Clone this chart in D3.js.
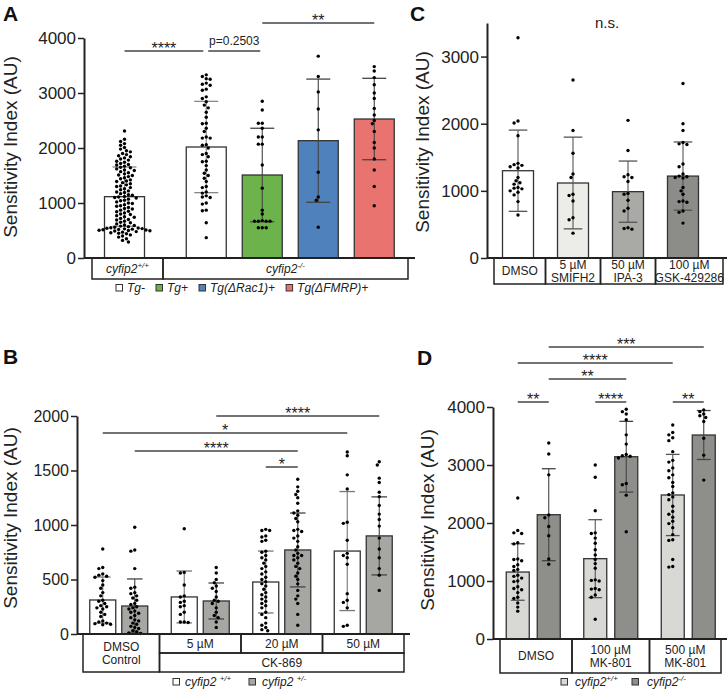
<!DOCTYPE html>
<html lang="en">
<head>
<meta charset="utf-8">
<title>Sensitivity index panels</title>
<script src="https://d3js.org/d3.v7.min.js"></script>
<style>
  body { margin: 0; background: #fff; }
  svg { display: block; font-family: "Liberation Sans", Arial, sans-serif; }
</style>
</head>
<body>
<svg id="fig" width="728" height="690"></svg>
<script>
// ---------- data: panel A ----------
var aLabels = ["Tg-", "Tg-", "Tg+", "Tg(ΔRac1)+", "Tg(ΔFMRP)+"];
var aGenotypes = ["+/+", "-/-"];
var aMean = [1115, 2018, 1509, 2133, 2527];
var aSD = [540, 830, 850, 1120, 740];
var aTicks = [0, 1000, 2000, 3000, 4000];
var aPts0 = [2310, 2160, 2120, 2080, 2050, 2010, 1980, 1950, 1930, 1900, 1880, 1860, 1840, 1820, 1800, 1780,
  1760, 1740, 1720, 1700, 1690, 1670, 1650, 1640, 1620, 1600, 1590, 1570, 1550, 1530, 1510, 1500, 1480,
  1460, 1440, 1420, 1400, 1390, 1370, 1350, 1330, 1310, 1300, 1280, 1260, 1240, 1220, 1200, 1190, 1170,
  1150, 1140, 1120, 1110, 1100, 1090, 1070, 1050, 1040, 1020, 1000, 990, 970, 950, 940, 920, 900, 890,
  870, 850, 840, 820, 800, 790, 770, 750, 740, 720, 700, 690, 670, 650, 640, 620, 600, 590, 580, 570,
  560, 550, 545, 540, 535, 530, 525, 520, 515, 510, 505, 500, 495, 490, 480, 470, 460, 450, 440, 420,
  400, 380, 350, 320, 290];
var aPts1 = [3330, 3300, 3260, 3250, 3180, 3160, 3140, 3070, 3050, 2930, 2900, 2840, 2780, 2730, 2650,
  2560, 2450, 2440, 2360, 2300, 2200, 2180, 2180, 2060, 2050, 2000, 1900, 1880, 1840, 1760, 1750, 1680,
  1600, 1540, 1500, 1450, 1390, 1300, 1280, 1200, 1180, 1130, 1110, 1100, 1000, 980, 870, 860, 640, 370];
var aPts2 = [2850, 2690, 2450, 2450, 2360, 2200, 2200, 2070, 2070, 1690, 1270, 870, 800, 680, 670, 670,
  670, 670, 550, 550, 550];
var aPts3 = [3670, 3300, 3020, 2710, 2330, 1560, 1110, 1050, 560];
var aPts4 = [3480, 3400, 3280, 3150, 3000, 2900, 2720, 2600, 2500, 2440, 2300, 2100, 2000, 1800, 1600,
  1300, 950];
var aSig = [["****", 0, 1], ["p=0.2503", 1, 2], ["**", 2, 4]];

// ---------- data: panel B ----------
var bGroups = ["DMSO\nControl", "5 µM", "20 µM", "50 µM"];
var bTreatment = "CK-869";
var bMeanWT = [312, 340, 477, 761];
var bSDWT = [211, 238, 284, 546];
var bMeanHet = [257, 303, 771, 900];
var bSDHet = [248, 165, 339, 358];
var bTicks = [0, 500, 1000, 1500, 2000];
var bPtsWT = [
  [780, 610, 600, 550, 540, 530, 520, 490, 450, 420, 380, 350, 310, 300, 280, 260, 250, 240, 230, 200,
   180, 160, 120, 110, 100, 95, 90, 85],
  [965, 565, 560, 450, 350, 340, 300, 290, 260, 250, 200, 180, 110, 110, 105],
  [960, 950, 950, 900, 890, 860, 850, 760, 750, 720, 700, 680, 650, 620, 600, 570, 550, 520, 500, 480,
   460, 440, 410, 380, 360, 340, 320, 300, 280, 260, 240, 200, 180, 150, 100, 80, 60, 40, 30],
  [1670, 1635, 1460, 1330, 1025, 1015, 860, 740, 720, 700, 640, 370, 310, 290, 240, 80, 70]
];
var bPtsHet = [
  [980, 770, 760, 600, 430, 420, 380, 370, 350, 330, 310, 280, 270, 250, 240, 230, 210, 200, 190, 170,
   150, 130, 120, 100, 90, 70, 60, 50, 30, 20, 10, 5],
  [610, 560, 500, 470, 440, 420, 390, 340, 310, 300, 280, 240, 200, 170, 150, 110, 60],
  [1420, 1350, 1310, 1280, 1250, 1200, 1130, 1110, 1090, 1060, 1030, 960, 950, 940, 900, 880, 850, 800,
   770, 740, 720, 720, 700, 680, 650, 620, 600, 560, 530, 500, 460, 400, 350, 320, 280, 180, 80],
  [1580, 1550, 1430, 1390, 1300, 1260, 1180, 1100, 1050, 990, 880, 780, 700, 600, 540, 400]
];
var bSig = [["****", [1, 1], [3, 1]], ["*", [0, 0], [3, 0]], ["****", [0, 1], [2, 1]], ["*", [2, 0], [2, 1]]];

// ---------- data: panel C ----------
var cGroups = ["DMSO", "5 µM\nSMIFH2", "50 µM\nIPA-3", "100 µM\nGSK-429286"];
var cMean = [1300, 1117, 988, 1220];
var cSD = [605, 683, 456, 508];
var cTicks = [0, 1000, 2000, 3000];
var cPts = [
  [3280, 2040, 2010, 1820, 1410, 1390, 1380, 1360, 1340, 1200, 1150, 1120, 1100, 1050, 1040, 1030, 1000,
   980, 940, 840, 640],
  [2650, 1900, 1560, 1250, 1200, 950, 930, 850, 600, 570, 370],
  [2050, 1600, 1240, 1210, 1200, 1140, 960, 950, 860, 740, 700, 450, 440, 430],
  [2600, 2000, 1900, 1720, 1700, 1690, 1400, 1360, 1250, 1220, 1210, 1200, 1190, 1050, 1000, 950, 850,
   840, 830, 700, 680, 520]
];

// ---------- data: panel D ----------
var dGroups = ["DMSO", "100 µM\nMK-801", "500 µM\nMK-801"];
var dMeanWT = [1155, 1385, 2483];
var dSDWT = [487, 672, 700];
var dMeanKO = [2143, 3143, 3517];
var dSDKO = [793, 610, 422];
var dTicks = [0, 1000, 2000, 3000, 4000];
var dPtsWT = [
  [2430, 1870, 1830, 1820, 1660, 1640, 1380, 1370, 1350, 1280, 1250, 1200, 1180, 1100, 1080, 1050, 1000,
   990, 900, 870, 850, 800, 720, 700, 620, 550, 480],
  [3000, 2790, 2210, 1830, 1820, 1740, 1650, 1540, 1450, 1370, 1300, 1220, 1020, 1010, 1000, 870, 860,
   850, 760, 720, 340],
  [3690, 3560, 3520, 3470, 3420, 3230, 3080, 3050, 2950, 2900, 2830, 2780, 2700, 2630, 2520, 2490, 2450,
   2400, 2290, 2200, 2150, 2100, 2030, 1990, 1920, 1800, 1710, 1700, 1370, 1250, 1240]
];
var dPtsKO = [
  [3380, 3190, 2830, 2140, 2090, 1940, 1780, 1380, 1290],
  [3960, 3920, 3880, 3780, 3520, 3360, 3180, 3160, 3150, 3120, 2680, 2660, 2480, 1850],
  [3950, 3920, 3880, 3850, 3820, 3750, 3460, 3170, 2740]
];
var dSig = [["***", [0, 1], [2, 1]], ["****", [0, 0], [2, 0]], ["**", [0, 1], [1, 1]],
  ["**", [0, 0], [0, 1]], ["****", [1, 0], [1, 1]], ["**", [2, 0], [2, 1]]];

// ---------- helpers ----------
var svg = d3.select("#fig");
var INK = "#222";
var R = 1.7;

function swarm(vals, cx, y, r) {
  var placed = [];
  var step = r * 1.15, min = 2 * r + 0.35;
  vals.slice().sort(d3.descending).forEach(function(v) {
    var py = y(v), px = cx;
    for (var k = 0; k < 80; k++) {
      px = cx + (k % 2 ? -1 : 1) * Math.ceil(k / 2) * step;
      var ok = placed.every(function(p) {
        var dx = p[0] - px, dy = p[1] - py;
        return dx * dx + dy * dy >= min * min;
      });
      if (ok) break;
    }
    placed.push([px, py]);
  });
  return placed;
}

function yAxis(y, x0, ticks, fs) {
  var ax = svg.append("g")
    .attr("transform", "translate(" + x0 + ",0)")
    .call(d3.axisLeft(y).tickValues(ticks).tickFormat(d3.format("d"))
      .tickSize(6).tickPadding(2).tickSizeOuter(0));
  ax.attr("font-size", fs).attr("font-family", "Liberation Sans, Arial, sans-serif");
  ax.select(".domain").attr("stroke", INK).attr("stroke-width", 2);
  ax.selectAll(".tick line").attr("stroke", INK).attr("stroke-width", 1.5);
  ax.selectAll(".tick text").attr("fill", INK);
}

function xLine(x1, x2, y0) {
  svg.append("line").attr("x1", x1).attr("x2", x2).attr("y1", y0).attr("y2", y0)
    .attr("stroke", INK).attr("stroke-width", 2);
}

function yLabel(x, cy) {
  svg.append("text")
    .attr("transform", "translate(" + x + "," + cy + ") rotate(-90)")
    .attr("text-anchor", "middle").attr("font-size", 19).attr("fill", INK)
    .text("Sensitivity Index (AU)");
}

function panelLetter(t, x, y) {
  svg.append("text").attr("x", x).attr("y", y).attr("font-size", 21)
    .attr("font-weight", "bold").attr("fill", "#111").text(t);
}

// bars: [{cx, w, mean, sd, fill, pts, err}]
function drawBars(bars, y) {
  var g = svg.append("g");
  bars.forEach(function(b) {
    g.append("rect").attr("x", b.cx - b.w / 2).attr("y", y(b.mean))
      .attr("width", b.w).attr("height", y(0) - y(b.mean))
      .attr("fill", b.fill).attr("stroke", "#333").attr("stroke-width", 1.3);
  });
  bars.forEach(function(b) {
    var cap = b.w * 0.3, hi = y(b.mean + b.sd), lo = y(Math.max(b.mean - b.sd, 0));
    var col = b.err || "#555";
    g.append("line").attr("x1", b.cx).attr("x2", b.cx).attr("y1", hi).attr("y2", lo)
      .attr("stroke", col).attr("stroke-width", 1.1);
    [hi, lo].forEach(function(yy) {
      g.append("line").attr("x1", b.cx - cap).attr("x2", b.cx + cap).attr("y1", yy).attr("y2", yy)
        .attr("stroke", col).attr("stroke-width", 1.3);
    });
  });
  bars.forEach(function(b) {
    g.selectAll(null).data(swarm(b.pts, b.cx, y, R)).enter().append("circle")
      .attr("cx", function(d) { return d[0]; }).attr("cy", function(d) { return d[1]; })
      .attr("r", R).attr("fill", "#000");
  });
}

function sigLine(x1, x2, ly, label, fs) {
  svg.append("line").attr("x1", x1).attr("x2", x2).attr("y1", ly).attr("y2", ly)
    .attr("stroke", "#444").attr("stroke-width", 1.5);
  var star = /^\*+$/.test(label);
  svg.append("text").attr("x", (x1 + x2) / 2).attr("y", star ? ly + 2.5 : ly - 6)
    .attr("text-anchor", "middle").attr("font-size", star ? 16 : (fs || 12))
    .attr("fill", INK).text(label);
}

function cellBox(x1, x2, y1, y2) {
  svg.append("rect").attr("x", x1).attr("y", y1).attr("width", x2 - x1).attr("height", y2 - y1)
    .attr("fill", "none").attr("stroke", INK).attr("stroke-width", 1.5);
}

function cellText(label, cx, y1, y2, fs) {
  var lines = label.split("\n");
  var lh = fs * 1.05;
  var top = (y1 + y2) / 2 - (lines.length - 1) * lh / 2 + fs * 0.36;
  var t = svg.append("text").attr("text-anchor", "middle").attr("font-size", fs).attr("fill", INK);
  lines.forEach(function(l, i) {
    t.append("tspan").attr("x", cx).attr("y", top + i * lh).text(l);
  });
}

function geno(x, yb, sup, anchor, fs, gap) {
  var t = svg.append("text").attr("x", x).attr("y", yb).attr("text-anchor", anchor || "start")
    .attr("font-style", "italic").attr("font-size", fs || 12).attr("fill", INK);
  t.append("tspan").text("cyfip2" + (gap ? " " : ""));
  t.append("tspan").attr("dy", -5).attr("font-size", 8).text(sup);
  return t;
}

function swatch(x, yb, fill) {
  svg.append("rect").attr("x", x).attr("y", yb - 7.5).attr("width", 6.5).attr("height", 6.5)
    .attr("fill", fill).attr("stroke", "#333").attr("stroke-width", 1);
}

// ---------- panel A ----------
var aFill = ["#ffffff", "#ffffff", "#6db34b", "#4f81bd", "#e8736f"];
var yA = d3.scaleLinear().domain([0, 4000]).range([258, 38]);
var xA = d3.scaleLinear().domain([0, 1]).range([124.5, 180.5]);
var aSlot = [0, 1.46, 2.46, 3.46, 4.46];
var aBars = aMean.map(function(m, i) {
  return { cx: xA(aSlot[i]), w: 40, mean: m, sd: aSD[i], fill: aFill[i],
           pts: [aPts0, aPts1, aPts2, aPts3, aPts4][i], err: i < 2 ? "#888" : "#444" };
});
panelLetter("A", 3, 21);
yLabel(17, 147);
drawBars(aBars, yA);
yAxis(yA, 84, aTicks, 17);
xLine(84, 415, 258);
cellBox(92, 163, 258, 279);
cellBox(163, 408, 258, 279);
geno((92 + 163) / 2, 273, aGenotypes[0], "middle");
geno((163 + 408) / 2, 273, aGenotypes[1], "middle");
// significance
var aSigY = [51, 51, 23];
aSig.forEach(function(s, i) {
  var x1 = aBars[s[1]].cx, x2 = aBars[s[2]].cx;
  if (i === 0) x2 -= 3;
  if (i === 1) { x1 += 2; x2 -= 2; }
  sigLine(x1, x2, aSigY[i], s[0], 12);
});
// legend
(function() {
  var x = 116, legFill = aFill.slice(1);
  ["Tg-", "Tg+", "Tg(ΔRac1)+", "Tg(ΔFMRP)+"].forEach(function(l, i) {
    swatch(x, 292, legFill[i]);
    var t = svg.append("text").attr("x", x + 11).attr("y", 292).attr("font-size", 12)
      .attr("font-style", "italic").attr("fill", INK).text(l);
    x += 11 + t.node().getComputedTextLength() + 11;
  });
})();

// ---------- panel B ----------
var bFillHet = "#a6a6a3";
var yB = d3.scaleLinear().domain([0, 2000]).range([634, 416]);
var xB = d3.scaleBand().domain(bGroups).range([78, 404]);
var bBars = [];
bGroups.forEach(function(g, i) {
  var c = xB(g) + xB.bandwidth() / 2;
  bBars.push({ cx: c - 16, w: 26, mean: bMeanWT[i], sd: bSDWT[i], fill: "#fff", pts: bPtsWT[i], err: "#777" });
  bBars.push({ cx: c + 16, w: 26, mean: bMeanHet[i], sd: bSDHet[i], fill: bFillHet, pts: bPtsHet[i], err: "#444" });
});
panelLetter("B", 3, 364);
yLabel(17, 518);
drawBars(bBars, yB);
yAxis(yB, 77, bTicks, 16);
xLine(77, 410, 634);
cellBox(83, xB(bGroups[1]), 634, 672);
cellText(bGroups[0], (83 + xB(bGroups[1])) / 2, 634, 672, 12);
bGroups.slice(1).forEach(function(g) {
  cellBox(xB(g), xB(g) + xB.bandwidth(), 634, 653);
  cellText(g, xB(g) + xB.bandwidth() / 2, 634, 653, 12);
});
cellBox(xB(bGroups[1]), 404, 653, 672);
cellText(bTreatment, (xB(bGroups[1]) + 404) / 2, 653, 672, 12);
var bSigY = [416, 433, 451, 467];
bSig.forEach(function(s, i) {
  var x1 = bBars[s[1][0] * 2 + s[1][1]].cx, x2 = bBars[s[2][0] * 2 + s[2][1]].cx;
  sigLine(x1, x2, bSigY[i], s[0]);
});
swatch(173, 686, "#fff");
geno(185, 686, "+/+", "start", 12, true);
swatch(249, 686, bFillHet);
geno(262, 686, "+/-", "start", 12, true);

// ---------- panel C ----------
var cFill = ["#ffffff", "#ecece8", "#a9a9a5", "#8c8c89"];
var yC = d3.scaleLinear().domain([0, 3500]).range([258, 23]);
var xC = d3.scaleBand().domain(cGroups).range([490.5, 710.5]);
var cBars = cGroups.map(function(g, i) {
  return { cx: xC(g) + xC.bandwidth() / 2, w: 31, mean: cMean[i], sd: cSD[i], fill: cFill[i], pts: cPts[i], err: "#555" };
});
panelLetter("C", 410, 21);
yLabel(429, 142);
drawBars(cBars, yC);
yAxis(yC, 487, cTicks, 17);
xLine(487, 727, 258);
(function() {
  var edges = [cBars[0].cx - 24];
  for (var i = 1; i < cBars.length; i++) edges.push((cBars[i - 1].cx + cBars[i].cx) / 2);
  edges.push(723);
  cGroups.forEach(function(g, i) {
    cellBox(edges[i], edges[i + 1], 258, 284);
    cellText(g, (edges[i] + edges[i + 1]) / 2, 258, 284, 12);
  });
})();
svg.append("text").attr("x", 607).attr("y", 28).attr("text-anchor", "middle")
  .attr("font-size", 15).attr("fill", INK).text("n.s.");

// ---------- panel D ----------
var dFillWT = "#d8d9d4", dFillKO = "#8e8f8b";
var yD = d3.scaleLinear().domain([0, 4000]).range([639, 407]);
var xD = d3.scaleBand().domain(dGroups).range([494.5, 727]);
var dBars = [];
dGroups.forEach(function(g, i) {
  var c = xD(g) + xD.bandwidth() / 2;
  dBars.push({ cx: c - 15.5, w: 23, mean: dMeanWT[i], sd: dSDWT[i], fill: dFillWT, pts: dPtsWT[i], err: "#555" });
  dBars.push({ cx: c + 15.5, w: 23, mean: dMeanKO[i], sd: dSDKO[i], fill: dFillKO, pts: dPtsKO[i], err: "#444" });
});
panelLetter("D", 417, 365);
yLabel(434, 520);
drawBars(dBars, yD);
yAxis(yD, 493, dTicks, 17);
xLine(493, 727, 639);
(function() {
  var edges = [500];
  for (var i = 1; i < dGroups.length; i++) edges.push((dBars[2 * i - 1].cx + dBars[2 * i].cx) / 2);
  edges.push(721);
  dGroups.forEach(function(g, i) {
    cellBox(edges[i], edges[i + 1], 639, 673);
    cellText(g, (edges[i] + edges[i + 1]) / 2, 639, 673, 12);
  });
})();
var dSigY = [347, 363, 379, 402, 402, 402];
dSig.forEach(function(s, i) {
  var x1 = dBars[s[1][0] * 2 + s[1][1]].cx, x2 = dBars[s[2][0] * 2 + s[2][1]].cx;
  sigLine(x1, x2, dSigY[i], s[0]);
});
swatch(561, 686, dFillWT);
geno(575, 686, "+/+", "start", 12);
swatch(632, 686, dFillKO);
geno(647, 686, "-/-", "start", 12);
</script>
</body>
</html>
